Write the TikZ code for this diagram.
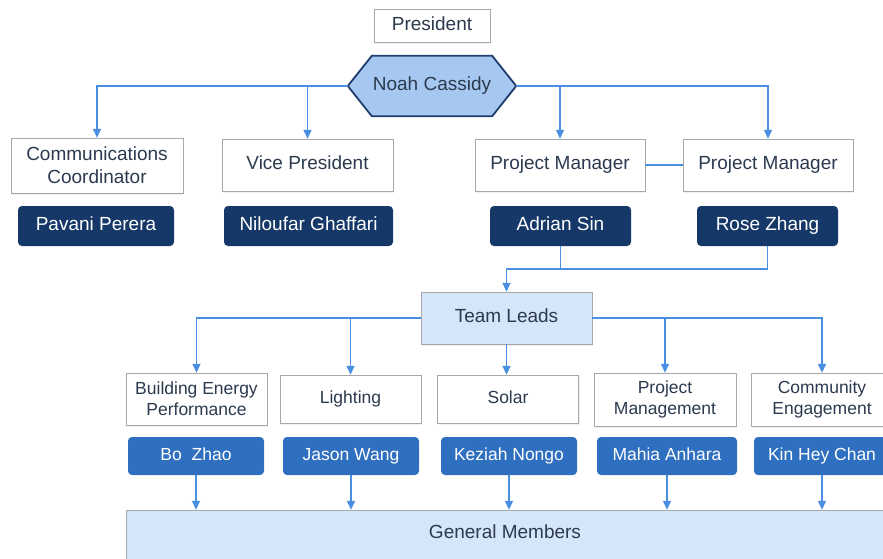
\documentclass[tikz,border=0pt]{standalone}
\usepackage{fontspec}
\setmainfont{Liberation Sans}
\usetikzlibrary{arrows.meta,shadows,backgrounds}

\definecolor{ink}{HTML}{2B3A4F}
\definecolor{navy}{HTML}{163868}
\definecolor{midblue}{HTML}{2F6FBF}
\definecolor{linkblue}{HTML}{4A90E2}
\definecolor{paleblue}{HTML}{D6E6FA}
\definecolor{hexfill}{HTML}{A6C8F0}
\definecolor{hexline}{HTML}{1F3D6B}
\definecolor{boxgray}{HTML}{A8A8A8}

\begin{document}
\begin{tikzpicture}[x=1pt,y=-1pt,
	role/.style={draw=boxgray, fill=white, text=ink, align=center, inner sep=0pt,
		font=\fontsize{19}{23}\selectfont,
		drop shadow={shadow xshift=1pt, shadow yshift=-2pt, opacity=.12}},
	team/.style={role, font=\fontsize{17.5}{21}\selectfont},
	big/.style={text height=13.6pt, text depth=4pt},
	small/.style={text height=12.5pt, text depth=3.7pt},
	lead/.style={fill=navy, text=white, rounded corners=4pt, inner sep=0pt, big,
		font=\fontsize{19}{23}\selectfont, minimum height=40pt},
	member/.style={fill=midblue, text=white, rounded corners=4pt, inner sep=0pt, small,
		font=\fontsize{17.5}{21}\selectfont, minimum height=38pt},
	link/.style={draw=linkblue, line width=1.4pt},
	arrow/.style={link, -{Triangle[width=8pt,length=9pt]}}]
	\path[use as bounding box, clip] (0,0) rectangle (883,558);
	% top
	\node[role, big, minimum width=116pt, minimum height=33pt] (pres) at (432,25.5) {President};
	\node[text=ink, big, font=\fontsize{19}{23}\selectfont, minimum width=168pt, minimum height=60pt, inner sep=0pt] (noah) at (432,86) {Noah Cassidy};
	\begin{scope}[on background layer]
		\draw[hexline, fill=hexfill, line width=1.8pt, line join=round]
		(noah.west) -- ([xshift=24pt]noah.north west) -- ([xshift=-24pt]noah.north east)
		-- (noah.east) -- ([xshift=-24pt]noah.south east) -- ([xshift=24pt]noah.south west) -- cycle;
	\end{scope}
	% officers
	\node[role, minimum width=172pt, minimum height=55pt] (comm) at (97,165.5) {Communications\\Coordinator};
	\node[role, big, minimum width=171pt, minimum height=52pt] (vp) at (307.5,165) {Vice President};
	\node[role, big, minimum width=170pt, minimum height=52pt] (pma) at (560,165) {Project Manager};
	\node[role, big, minimum width=170pt, minimum height=52pt] (pmb) at (768,165) {Project Manager};
	\node[lead, minimum width=156pt] (pavani) at (96,226) {Pavani Perera};
	\node[lead, minimum width=169pt] (niloufar) at (308.5,226) {Niloufar Ghaffari};
	\node[lead, minimum width=141pt] (adrian) at (560.5,226) {Adrian Sin};
	\node[lead, minimum width=141pt] (rose) at (767.5,226) {Rose Zhang};
	% team leads
	\node[role, big, fill=paleblue, minimum width=171pt, minimum height=52pt] (leads) at (506.5,318) {Team Leads};
	\coordinate (merge) at (506.5,269);
	\node[team, minimum width=141pt, minimum height=52pt] (energy) at (196.5,399) {Building Energy\\Performance};
	\node[team, small, minimum width=141pt, minimum height=48pt] (lighting) at (350.5,399) {Lighting};
	\node[team, small, minimum width=141pt, minimum height=48pt] (solar) at (508,399) {Solar};
	\node[team, minimum width=142pt, minimum height=53pt] (pmgmt) at (665,399.5) {Project\\Management};
	\node[team, minimum width=141pt, minimum height=53pt] (engage) at (822,399.5) {Community\\Engagement};
	\node[member, minimum width=136pt] (bo) at (196,456) {Bo~~Zhao};
	\node[member, minimum width=136pt] (jason) at (351,456) {Jason Wang};
	\node[member, minimum width=136pt] (keziah) at (509,456) {Keziah Nongo};
	\node[member, minimum width=140pt] (mahia) at (667,456) {Mahia Anhara};
	\node[member, minimum width=136pt] (kin) at (822,456) {Kin Hey Chan};
	\node[role, fill=paleblue, minimum width=758pt, minimum height=60pt] (general) at (505,540) {};
	\node[text=ink, big, font=\fontsize{19}{23}\selectfont] (genlabel) at (505,534) {General Members};
	% connectors
	\draw[arrow] (noah.west) -| (comm.north);
	\draw[arrow] (noah.west) -| (vp.north);
	\draw[arrow] (noah.east) -| (pma.north);
	\draw[arrow] (noah.east) -| (pmb.north);
	\draw[link] (pma.east) -- (pmb.west);
	\draw[arrow] (adrian.south) |- (merge) -- (leads.north);
	\draw[link] (rose.south) |- (merge);
	\draw[arrow] (leads.west) -| (energy.north);
	\draw[arrow] (leads.west) -| (lighting.north);
	\draw[arrow] (leads.south) -- (leads.south |- solar.north);
	\draw[arrow] (leads.east) -| (pmgmt.north);
	\draw[arrow] (leads.east) -| (engage.north);
	\foreach \who in {bo,jason,keziah,mahia,kin}
		\draw[arrow] (\who.south) -- (\who.south |- general.north);
\end{tikzpicture}
\end{document}
